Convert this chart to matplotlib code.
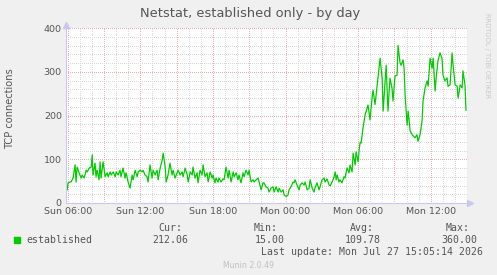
import numpy as np
import matplotlib
matplotlib.use('Agg')
import matplotlib.pyplot as plt
from matplotlib.ticker import FixedLocator, MultipleLocator

# minutes since Sun 06:00
minutes = [-3, 1, 11, 16, 26, 36, 41, 46, 56, 66, 71, 81, 91, 96, 106, 116, 121, 125, 135, 140,
           145, 155, 160, 165, 175, 185, 195, 200, 210, 215, 225, 235, 240, 249, 259, 264, 274, 284, 289, 299,
           309, 319, 324, 334, 344, 349,
           359, 369, 373, 383, 393, 398, 408, 418, 423, 433, 443, 448, 458, 468, 473, 483, 488, 497, 507, 517,
           522, 532, 542, 547, 557, 567, 572, 582, 592, 597, 607, 617, 621, 631, 641, 646, 656, 666, 671, 681,
           691, 696, 706, 716, 720, 730,
           735, 745, 750, 760, 770, 775, 785, 795, 800, 810, 820, 825, 835, 844, 849, 859, 869, 874, 884, 894,
           899, 909, 919, 924, 934, 944, 949, 959, 968, 973, 983, 993, 998, 1008, 1018, 1023, 1033, 1043, 1048, 1058,
           1068, 1073, 1083, 1092, 1097, 1107,
           1117, 1122, 1127, 1137, 1147, 1152, 1162, 1172, 1177, 1187, 1197, 1202, 1212, 1221, 1226, 1236, 1246, 1251,
           1261, 1271, 1276, 1286, 1296, 1301, 1311, 1321, 1326, 1331, 1336, 1345, 1350, 1360, 1370, 1375, 1385, 1395,
           1400, 1410, 1415, 1425, 1430, 1440, 1445, 1450,
           1455, 1464, 1474, 1489, 1499, 1509, 1514, 1524, 1534, 1549, 1559, 1564, 1579, 1588, 1598, 1608, 1613, 1623,
           1633, 1638,
           1648, 1653, 1663, 1668, 1673, 1683, 1688, 1698, 1708, 1722, 1732, 1737, 1747, 1757, 1762, 1772, 1782, 1787,
           1797, 1807, 1812, 1822, 1827, 1836, 1846, 1856, 1861, 1871, 1881, 1886, 1896, 1906, 1911, 1921, 1931, 1936,
           1946, 1956, 1960, 1970, 1975]
established = [30, 46, 48, 48, 57, 87, 48, 82, 69, 57, 64, 57, 75, 71, 80, 82, 110, 64, 91, 60,
               75, 53, 94, 57, 94, 60, 69, 60, 71, 64, 71, 60, 71, 64, 75, 60, 80, 57, 69, 48,
               34, 64, 53, 75, 60, 71,
               75, 71, 75, 64, 60, 48, 87, 57, 75, 64, 75, 53, 80, 98, 114, 82, 48, 64, 91, 64,
               75, 57, 69, 75, 64, 71, 60, 80, 64, 48, 71, 64, 82, 57, 69, 46, 75, 64, 87, 60,
               69, 48, 71, 57, 64, 46,
               57, 48, 57, 48, 55, 53, 82, 57, 75, 48, 71, 60, 69, 53, 64, 46, 69, 60, 75, 64,
               75, 48, 53, 48, 53, 57, 48, 30, 46, 46, 37, 34, 25, 34, 37, 25, 37, 25, 34, 25,
               30, 18, 15, 18, 30, 37,
               48, 46, 53, 41, 30, 41, 46, 41, 48, 30, 34, 53, 34, 25, 34, 46, 30, 37,
               53, 57, 48, 55, 41, 39, 48, 60, 71, 53, 64, 48, 53, 46, 60, 57, 80, 69,
               87, 71, 114, 87, 117, 94, 121, 139,
               137, 171, 200, 224, 190, 240, 258, 225, 267, 331, 285, 210, 315, 210, 285, 263, 233, 290,
               292, 360,
               320, 315, 327, 308, 247, 178, 210, 165, 156, 149, 156, 141, 156, 187, 233, 263, 279, 267,
               331, 308, 331, 256, 286, 325, 343, 331, 292, 279, 286, 267, 270, 343, 315, 270, 267, 240,
               270, 263, 302, 270, 212]

xtick_pos = [0, 360, 720, 1080, 1440, 1800]
xtick_labels = ['Sun 06:00', 'Sun 12:00', 'Sun 18:00', 'Mon 00:00', 'Mon 06:00', 'Mon 12:00']
ytick_pos = [0, 100, 200, 300, 400]

stats_names = ['Cur:', 'Min:', 'Avg:', 'Max:']
stats_values = ['212.06', '15.00', '109.78', '360.00']

W, H = 497, 275
fig = plt.figure(figsize=(W / 100, H / 100), dpi=100, facecolor='#f0f0f0')
ax = fig.add_axes([66 / W, 72 / H, 401 / W, 175 / H], facecolor='white')

txt = '#555555'
axis_col = '#c8c8f0'
dots = (0, (1, 2))

ax.set_xlim(-9, 1980)
ax.set_ylim(0, 400)

ax.xaxis.set_major_locator(FixedLocator(np.arange(0, 1981, 180)))
ax.xaxis.set_minor_locator(MultipleLocator(60))
ax.yaxis.set_major_locator(FixedLocator(ytick_pos))
ax.yaxis.set_minor_locator(MultipleLocator(20))

ax.grid(which='minor', color='#dadada', linestyle=dots, linewidth=0.72, antialiased=False)
ax.grid(which='major', color='#f0b0b0', linestyle=dots, linewidth=0.72, antialiased=False)
ax.set_axisbelow(True)

labs = []
for p in np.arange(0, 1981, 180):
    labs.append(xtick_labels[xtick_pos.index(p)] if p in xtick_pos else '')
ax.set_xticklabels(labs)
ax.set_yticklabels([str(v) for v in ytick_pos])
ax.tick_params(which='both', length=0, labelsize=6.8, colors=txt, pad=3)

for s in ['top', 'right']:
    ax.spines[s].set_visible(False)
for s in ['left', 'bottom']:
    ax.spines[s].set_color(axis_col)
    ax.spines[s].set_linewidth(0.8)
ax.plot([1 + 3 / 401], [0], marker='>', color=axis_col, markersize=4, transform=ax.transAxes, clip_on=False)
ax.plot([0], [1 + 3 / 175], marker='^', color=axis_col, markersize=4, transform=ax.transAxes, clip_on=False)

ax.plot(minutes, established, color='#00cc00', linewidth=0.9)

fig.text(250 / W, 1 - 13 / H, 'Netstat, established only - by day', ha='center', va='center',
         fontsize=9.4, color=txt)
fig.text(10 / W, 1 - 109 / H, 'TCP connections', rotation=90, ha='center', va='center',
         fontsize=7.1, color=txt)
fig.text(487 / W, 1 - 56 / H, 'RRDTOOL / TOBI OETIKER', rotation=270, ha='center', va='center',
         fontsize=4.8, color='#c8c8c8')

mono = 'DejaVu Sans Mono'
fig.patches.append(plt.Rectangle((14 / W, 1 - 243 / H), 6 / W, 6 / H, transform=fig.transFigure,
                                 facecolor='#00cc00', edgecolor='#00cc00'))
fig.text(26 / W, 1 - 240 / H, 'established', ha='left', va='center', fontsize=7.1, color=txt, family=mono)
name_x = [170, 266, 362, 458]
val_x = [170, 270, 363, 459]
for n, v, nx, vx in zip(stats_names, stats_values, name_x, val_x):
    fig.text(nx / W, 1 - 228 / H, n, ha='center', va='center', fontsize=7.1, color=txt, family=mono)
    fig.text(vx / W, 1 - 240 / H, v, ha='center', va='center', fontsize=7.1, color=txt, family=mono)
fig.text(372 / W, 1 - 252 / H, 'Last update: Mon Jul 27 15:05:14 2026', ha='center', va='center',
         fontsize=7.1, color=txt, family=mono)
fig.text(249 / W, 1 - 265 / H, 'Munin 2.0.49', ha='center', va='center', fontsize=5.6, color='#c0c0c0')

fig.savefig('out.png', dpi=100, facecolor=fig.get_facecolor())
